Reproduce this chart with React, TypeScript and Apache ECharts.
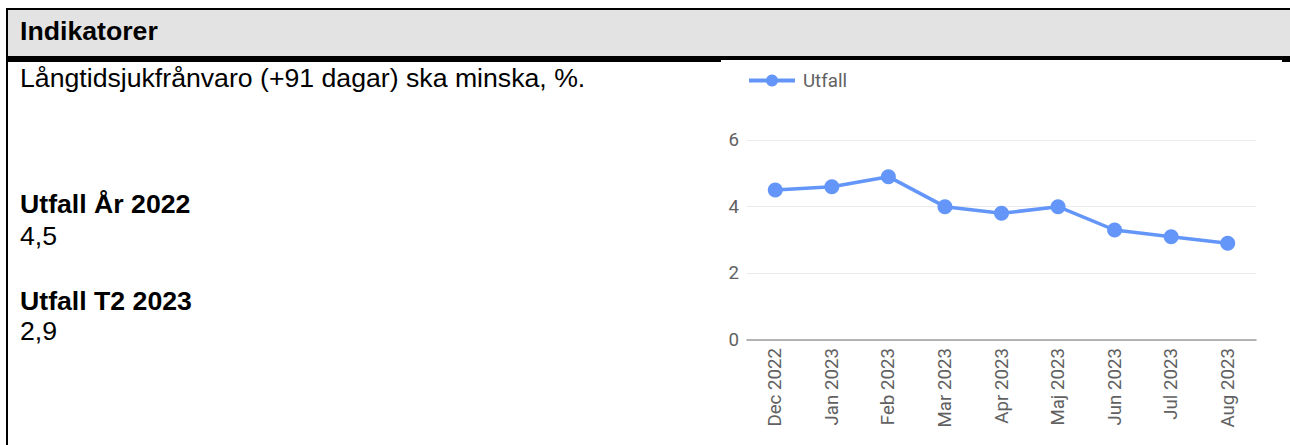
import React, { useEffect, useRef } from "react";
import * as echarts from "echarts";

const categories = ["Dec 2022", "Jan 2023", "Feb 2023", "Mar 2023", "Apr 2023", "Maj 2023", "Jun 2023", "Jul 2023", "Aug 2023"];
const utfall = [4.5, 4.6, 4.9, 4.0, 3.8, 4.0, 3.3, 3.1, 2.9];
const seriesName = "Utfall";
const yTicks = { min: 0, max: 6, interval: 2 };

const FONT = "'Liberation Sans', Arial, Helvetica, sans-serif";
const FS = 26.67;

function Txt(props: { top: number; children: React.ReactNode; bold?: boolean }) {
  return (
    <div
      style={{
        position: "absolute",
        left: 20,
        top: props.top,
        fontFamily: FONT,
        fontSize: FS,
        lineHeight: "30px",
        fontWeight: props.bold ? 700 : 400,
        color: "#000",
        whiteSpace: "nowrap",
      }}
    >
      {props.children}
    </div>
  );
}

export default function App() {
  const ref = useRef<HTMLDivElement>(null);

  useEffect(() => {
    document.body.style.margin = "0";
    if (!ref.current) return;
    const chart = echarts.init(ref.current, undefined, { renderer: "svg" });
    const axisText = { color: "#616161", fontFamily: "Roboto", fontSize: 18.7 };
    chart.setOption({
      animation: false,
      backgroundColor: "#fff",
      legend: {
        left: 26,
        top: 11,
        padding: 0,
        itemWidth: 46,
        itemHeight: 15,
        itemGap: 10,
        data: [seriesName],
        lineStyle: { width: 4 },
        textStyle: { color: "#616161", fontFamily: "Roboto", fontSize: 18.7, padding: [0, 0, 0, 3] },
      },
      grid: { left: 26, right: 26, top: 80, bottom: 105, containLabel: false },
      xAxis: {
        type: "category",
        data: categories,
        boundaryGap: true,
        axisLine: { lineStyle: { color: "#9e9e9e", width: 1.5 } },
        axisTick: { show: false },
        axisLabel: { ...axisText, rotate: 90, margin: 8, interval: 0 },
      },
      yAxis: {
        type: "value",
        min: yTicks.min,
        max: yTicks.max,
        interval: yTicks.interval,
        axisLine: { show: false },
        axisTick: { show: false },
        splitLine: { lineStyle: { color: "#ebebeb", width: 1 } },
        axisLabel: { ...axisText, margin: 8 },
      },
      series: [
        {
          name: seriesName,
          type: "line",
          data: utfall,
          symbol: "circle",
          symbolSize: 15,
          itemStyle: { color: "#6396f8" },
          lineStyle: { color: "#6396f8", width: 3.5 },
        },
      ],
    });
    return () => chart.dispose();
  }, []);

  return (
    <div style={{ position: "relative", width: 1290, height: 445, overflow: "hidden", background: "#fff" }}>
      {/* outer borders */}
      <div style={{ position: "absolute", left: 6, top: 8, width: 1284, height: 2, background: "#000" }} />
      <div style={{ position: "absolute", left: 6, top: 8, width: 2, height: 437, background: "#000" }} />
      {/* header */}
      <div style={{ position: "absolute", left: 8, top: 10, width: 1282, height: 46, background: "#e3e3e3" }} />
      <div style={{ position: "absolute", left: 6, top: 56, width: 1284, height: 6, background: "#000" }} />
      <Txt top={16} bold>Indikatorer</Txt>
      <Txt top={63}>Långtidsjukfrånvaro (+91 dagar) ska minska, %.</Txt>
      <Txt top={189} bold>Utfall År 2022</Txt>
      <Txt top={221}>4,5</Txt>
      <Txt top={286} bold>Utfall T2 2023</Txt>
      <Txt top={316}>2,9</Txt>
      <div ref={ref} style={{ position: "absolute", left: 721, top: 60, width: 561, height: 385 }} />
    </div>
  );
}
